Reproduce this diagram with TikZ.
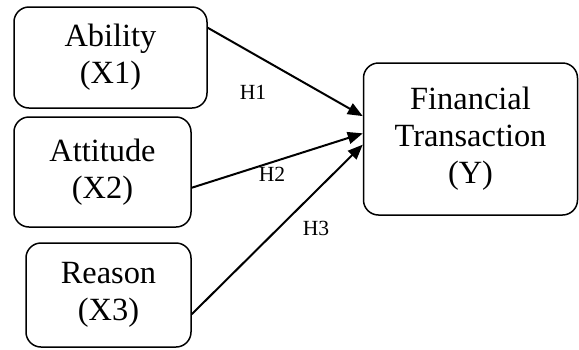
\documentclass[tikz,border=0pt]{standalone}
\usepackage{fontspec}
\setmainfont{Liberation Serif}
\usetikzlibrary{arrows.meta}

\begin{document}
\begin{tikzpicture}[x=0.5pt, y=-0.5pt,
  var/.style={draw, line width=0.75pt, rounded corners=7.5pt, align=center,
              inner sep=0pt, font=\fontsize{16.2}{18.6}\selectfont},
  hyp/.style={inner sep=0pt, font=\fontsize{10.8}{12}\selectfont},
  link/.style={-{Triangle[length=7.5pt,width=6pt]}, line width=1pt}
]
  \useasboundingbox (0,0) rectangle (579,349);
  \node[var, minimum width=96.5pt, minimum height=50.5pt] (ability) at (110.5,57.5)
    {Ability\\(X1)};
  \node[var, minimum width=88.5pt, minimum height=55pt] (attitude) at (102.5,172)
    {Attitude\\(X2)};
  \node[var, minimum width=82.5pt, minimum height=52pt] (reason) at (108.5,295)
    {Reason\\(X3)};
  \node[var, minimum width=107pt, minimum height=76pt] (fintrans) at (470.5,139)
    {Financial\\Transaction\\(Y)};

  \draw[link] (ability.17.5) -- (fintrans.168.5);
  \draw[link] (attitude.-10) -- (fintrans.177);
  \draw[link] (reason.-13.5) -- (fintrans.183);

  \node[hyp] (h1) at (253,92) {H1};
  \node[hyp] (h2) at (272,174) {H2};
  \node[hyp] (h3) at (316,228) {H3};
\end{tikzpicture}
\end{document}
